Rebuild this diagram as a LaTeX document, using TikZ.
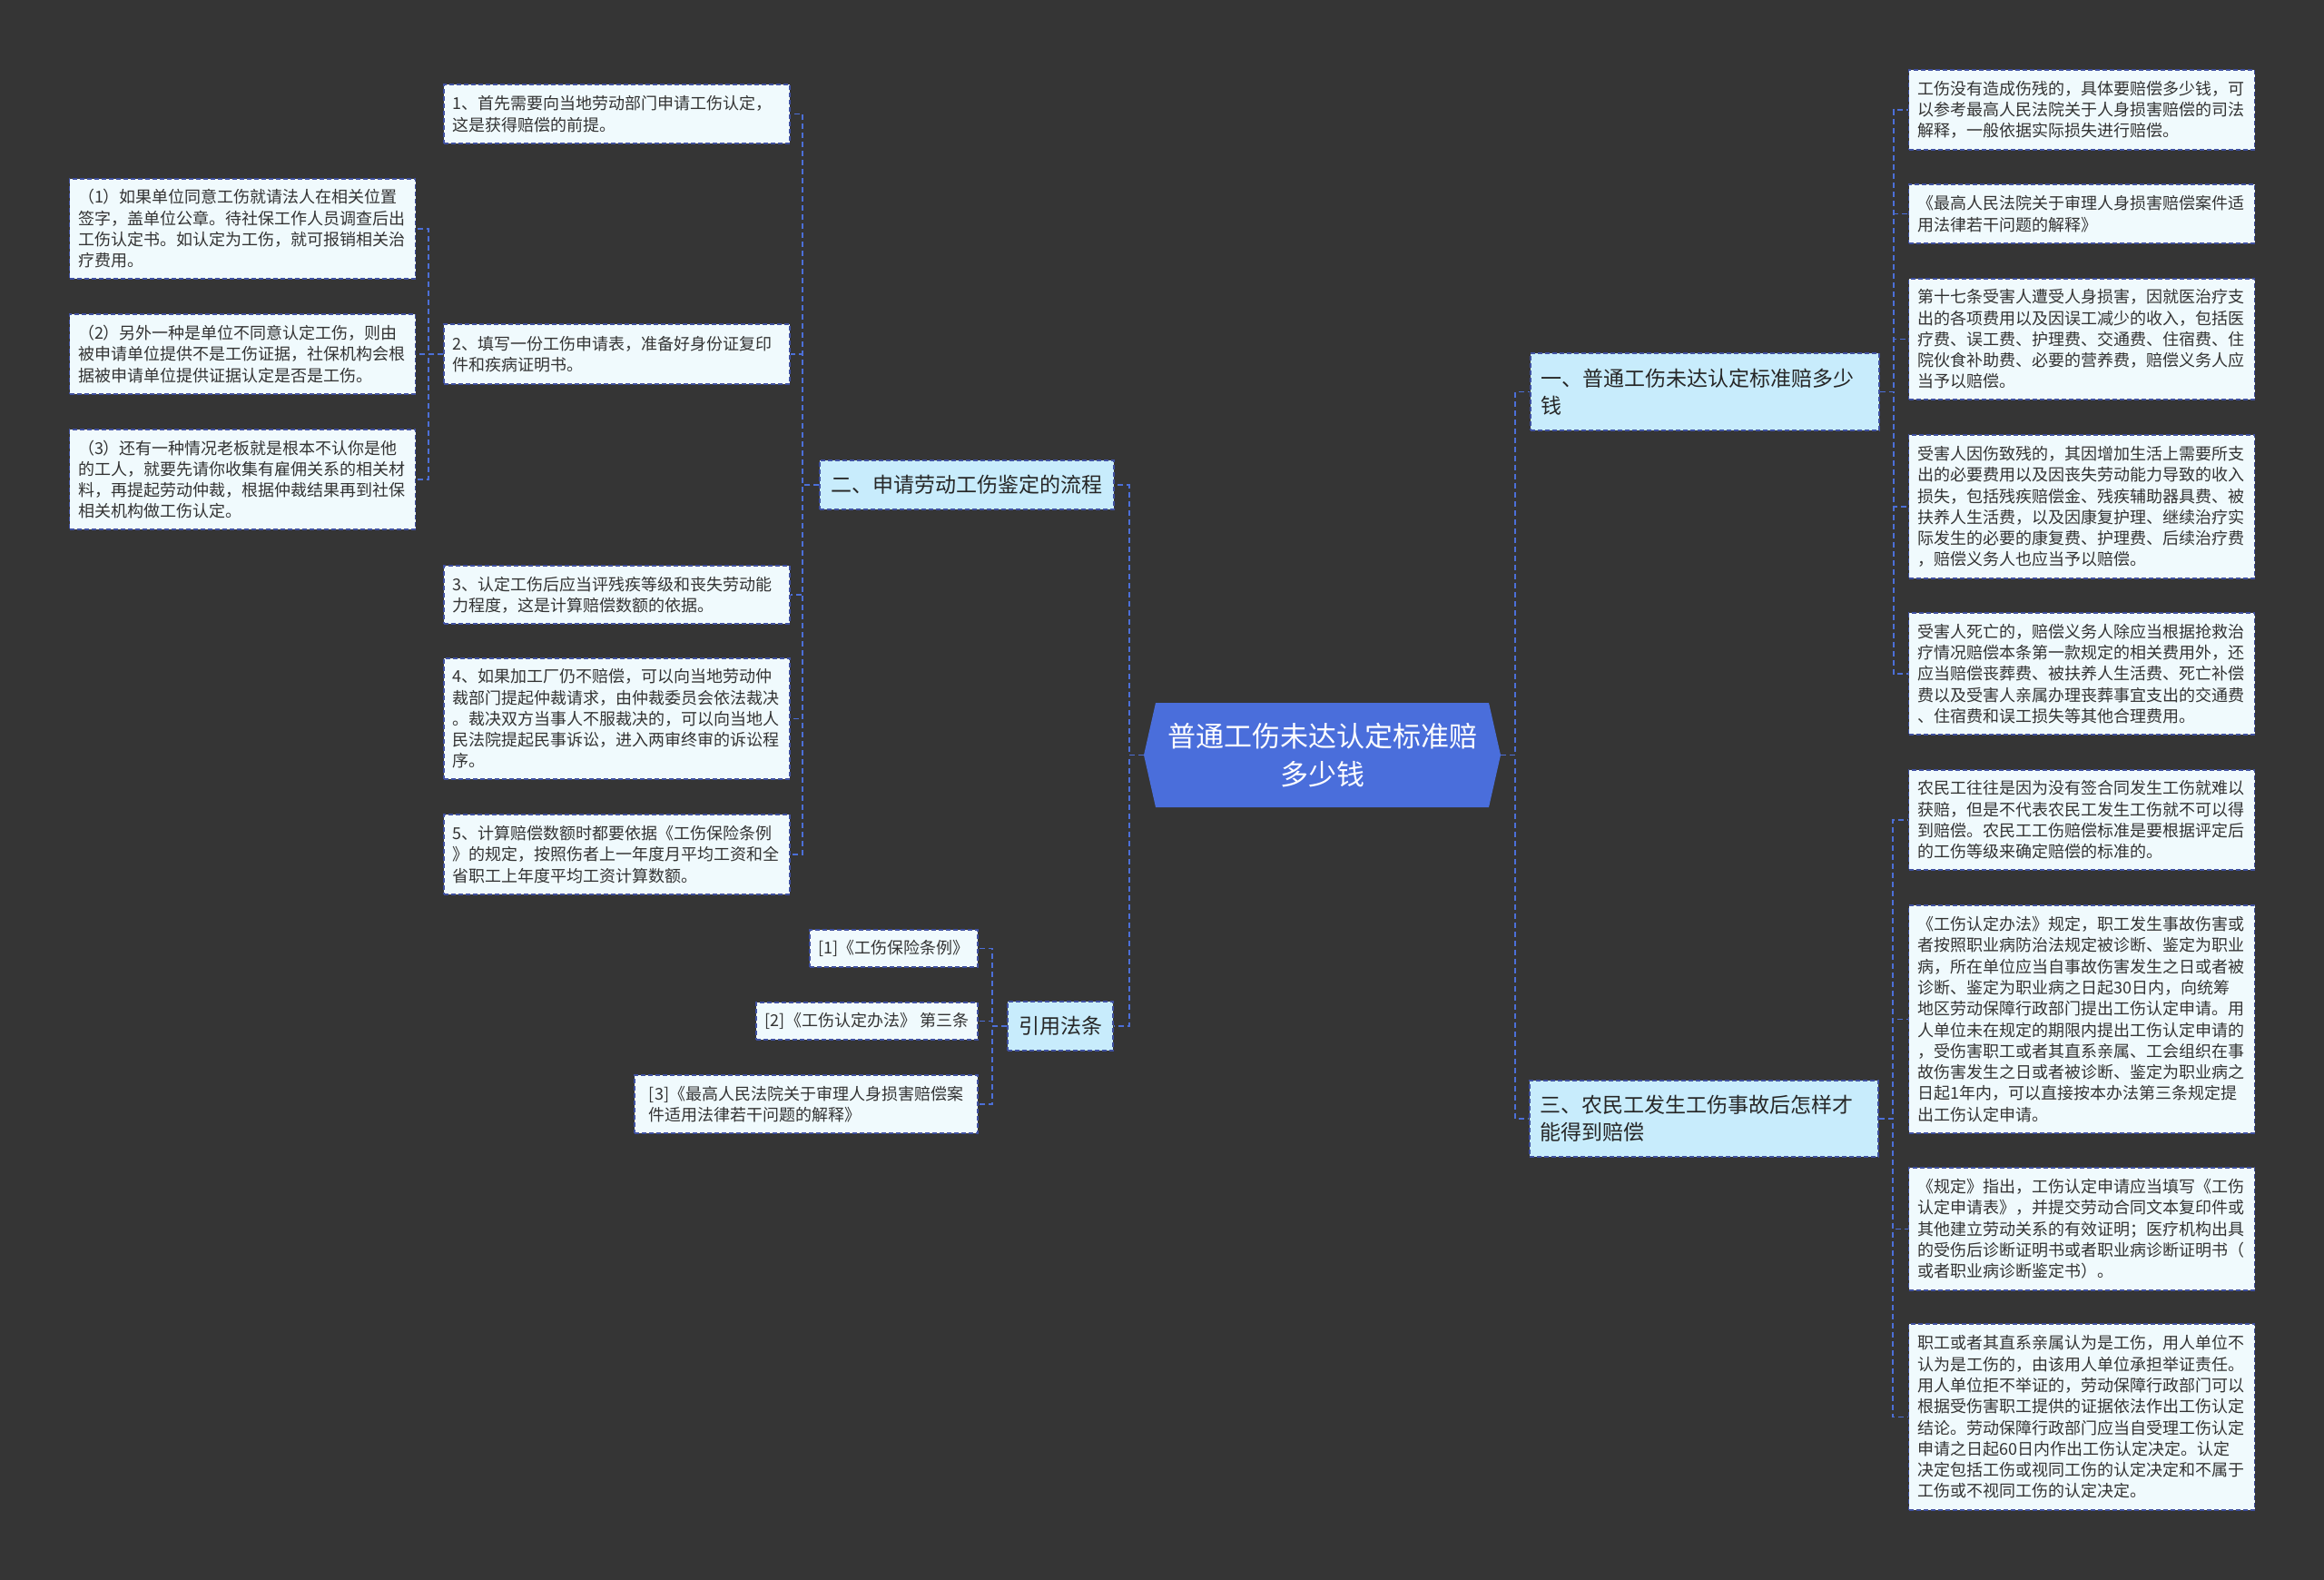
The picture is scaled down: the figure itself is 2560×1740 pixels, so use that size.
\documentclass[tikz,border=0pt]{standalone}
\usepackage{fontspec}
\setmainfont{Noto Sans CJK SC}
\usepackage{xcolor}
\definecolor{bggray}{HTML}{353535}
\definecolor{rootblue}{HTML}{4A6EDB}
\definecolor{topicblue}{HTML}{C8ECFC}
\definecolor{leafwhite}{HTML}{F0FAFD}
\definecolor{edgeblue}{HTML}{4C6FD8}
\definecolor{rimblue}{HTML}{3F50A0}

\begin{document}
\begin{tikzpicture}[
  x=1pt, y=-1pt,
  rootnode/.style={minimum width=393pt, minimum height=115pt, inner sep=0pt, align=center, text=white, font=\fontsize{31}{41.7}\selectfont,
    path picture={\fill[rootblue] (path picture bounding box.west) -- ([xshift=13pt]path picture bounding box.north west) -- ([xshift=-13pt]path picture bounding box.north east) -- (path picture bounding box.east) -- ([xshift=-13pt]path picture bounding box.south east) -- ([xshift=13pt]path picture bounding box.south west) -- cycle;}},
  topic/.style={draw=rimblue, fill=topicblue, line width=1.5pt, dash pattern=on 5pt off 3pt, inner xsep=11pt, inner ysep=0pt, align=left, text=black!85, font=\fontsize{23}{30}\selectfont},
  leaf/.style={draw=rimblue, fill=leafwhite, line width=1.5pt, dash pattern=on 5pt off 3pt, text width=362pt, inner xsep=9.5pt, inner ysep=0pt, align=left, text=black!80, font=\fontsize{18}{23.3}\selectfont},
  reflaw/.style={leaf, text width=, align=left},
  link/.style={draw=edgeblue, line width=1.8pt, dash pattern=on 6pt off 4pt}
]
  \fill[bggray] (0,0) rectangle (2560,1740);
  \useasboundingbox (0,0) rectangle (2560,1740);
  \node[rootnode] (root) at (1456.5,831.5) {普通工伤未达认定标准赔\\多少钱};
  \node[topic, text width=362pt, minimum height=85pt] (b1) at (1878,431.5) {一、普通工伤未达认定标准赔多少\\钱};
  \node[topic, minimum width=324pt, minimum height=54pt] (b2) at (1065,534) {二、申请劳动工伤鉴定的流程};
  \node[topic, text width=362pt, minimum height=84pt] (b3) at (1877,1232) {三、农民工发生工伤事故后怎样才\\能得到赔偿};
  \node[topic, minimum width=116pt, minimum height=54pt] (b4) at (1168,1130) {引用法条};
  \node[leaf, minimum height=65pt] (l1) at (679.5,125.5) {1、首先需要向当地劳动部门申请工伤认定，\\这是获得赔偿的前提。};
  \node[leaf, minimum height=66pt] (l2) at (679.5,390) {2、填写一份工伤申请表，准备好身份证复印\\件和疾病证明书。};
  \node[leaf, minimum height=64pt] (l3) at (679.5,655) {3、认定工伤后应当评残疾等级和丧失劳动能\\力程度，这是计算赔偿数额的依据。};
  \node[leaf, minimum height=133pt] (l4) at (679.5,791.5) {4、如果加工厂仍不赔偿，可以向当地劳动仲\\裁部门提起仲裁请求，由仲裁委员会依法裁决\\。裁决双方当事人不服裁决的，可以向当地人\\民法院提起民事诉讼，进入两审终审的诉讼程\\序。};
  \node[leaf, minimum height=88pt] (l5) at (679.5,941) {5、计算赔偿数额时都要依据《工伤保险条例\\》的规定，按照伤者上一年度月平均工资和全\\省职工上年度平均工资计算数额。};
  \node[leaf, minimum height=110pt] (s1) at (267,252) {（1）如果单位同意工伤就请法人在相关位置\\签字，盖单位公章。待社保工作人员调查后出\\工伤认定书。如认定为工伤，就可报销相关治\\疗费用。};
  \node[leaf, minimum height=88pt] (s2) at (267,390) {（2）另外一种是单位不同意认定工伤，则由\\被申请单位提供不是工伤证据，社保机构会根\\据被申请单位提供证据认定是否是工伤。};
  \node[leaf, minimum height=110pt] (s3) at (267,528) {（3）还有一种情况老板就是根本不认你是他\\的工人，就要先请你收集有雇佣关系的相关材\\料，再提起劳动仲裁，根据仲裁结果再到社保\\相关机构做工伤认定。};
  \node[reflaw, minimum width=185pt, minimum height=41pt] (ref1) at (984.5,1044.5) {[1]《工伤保险条例》};
  \node[reflaw, minimum width=244pt, minimum height=41pt] (ref2) at (955,1124.5) {[2]《工伤认定办法》 第三条};
  \node[reflaw, minimum width=378pt, minimum height=64pt] (ref3) at (888,1216) {[3]《最高人民法院关于审理人身损害赔偿案\\件适用法律若干问题的解释》};
  \node[leaf, minimum height=88pt] (r1) at (2293,121) {工伤没有造成伤残的，具体要赔偿多少钱，可\\以参考最高人民法院关于人身损害赔偿的司法\\解释，一般依据实际损失进行赔偿。};
  \node[leaf, minimum height=65pt] (r2) at (2293,235.5) {《最高人民法院关于审理人身损害赔偿案件适\\用法律若干问题的解释》};
  \node[leaf, minimum height=133pt] (r3) at (2293,373.5) {第十七条受害人遭受人身损害，因就医治疗支\\出的各项费用以及因误工减少的收入，包括医\\疗费、误工费、护理费、交通费、住宿费、住\\院伙食补助费、必要的营养费，赔偿义务人应\\当予以赔偿。};
  \node[leaf, minimum height=158pt] (r4) at (2293,558) {受害人因伤致残的，其因增加生活上需要所支\\出的必要费用以及因丧失劳动能力导致的收入\\损失，包括残疾赔偿金、残疾辅助器具费、被\\扶养人生活费，以及因康复护理、继续治疗实\\际发生的必要的康复费、护理费、后续治疗费\\，赔偿义务人也应当予以赔偿。};
  \node[leaf, minimum height=134pt] (r5) at (2293,742) {受害人死亡的，赔偿义务人除应当根据抢救治\\疗情况赔偿本条第一款规定的相关费用外，还\\应当赔偿丧葬费、被扶养人生活费、死亡补偿\\费以及受害人亲属办理丧葬事宜支出的交通费\\、住宿费和误工损失等其他合理费用。};
  \node[leaf, minimum height=110pt] (r6) at (2293,903) {农民工往往是因为没有签合同发生工伤就难以\\获赔，但是不代表农民工发生工伤就不可以得\\到赔偿。农民工工伤赔偿标准是要根据评定后\\的工伤等级来确定赔偿的标准的。};
  \node[leaf, minimum height=251pt] (r7) at (2293,1122.5) {《工伤认定办法》规定，职工发生事故伤害或\\者按照职业病防治法规定被诊断、鉴定为职业\\病，所在单位应当自事故伤害发生之日或者被\\诊断、鉴定为职业病之日起30日内，向统筹\\地区劳动保障行政部门提出工伤认定申请。用\\人单位未在规定的期限内提出工伤认定申请的\\，受伤害职工或者其直系亲属、工会组织在事\\故伤害发生之日或者被诊断、鉴定为职业病之\\日起1年内，可以直接按本办法第三条规定提\\出工伤认定申请。};
  \node[leaf, minimum height=135pt] (r8) at (2293,1353.5) {《规定》指出，工伤认定申请应当填写《工伤\\认定申请表》，并提交劳动合同文本复印件或\\其他建立劳动关系的有效证明；医疗机构出具\\的受伤后诊断证明书或者职业病诊断证明书（\\或者职业病诊断鉴定书）。};
  \node[leaf, minimum height=205pt] (r9) at (2293,1560.5) {职工或者其直系亲属认为是工伤，用人单位不\\认为是工伤的，由该用人单位承担举证责任。\\用人单位拒不举证的，劳动保障行政部门可以\\根据受伤害职工提供的证据依法作出工伤认定\\结论。劳动保障行政部门应当自受理工伤认定\\申请之日起60日内作出工伤认定决定。认定\\决定包括工伤或视同工伤的认定决定和不属于\\工伤或不视同工伤的认定决定。};
  \draw[link] (root.west) -- ++(-16,0) |- (b2.east);
  \draw[link] (root.west) -- ++(-16,0) |- (b4.east);
  \draw[link] (root.east) -- ++(16,0) |- (b1.west);
  \draw[link] (root.east) -- ++(16,0) |- (b3.west);
  \draw[link] (b2.west) -- ++(-18,0) |- (l1.east);
  \draw[link] (b2.west) -- ++(-18,0) |- (l2.east);
  \draw[link] (b2.west) -- ++(-18,0) |- (l3.east);
  \draw[link] (b2.west) -- ++(-18,0) |- (l4.east);
  \draw[link] (b2.west) -- ++(-18,0) |- (l5.east);
  \draw[link] (l2.west) -- ++(-16,0) |- (s1.east);
  \draw[link] (l2.west) -- ++(-16,0) |- (s2.east);
  \draw[link] (l2.west) -- ++(-16,0) |- (s3.east);
  \draw[link] (b4.west) -- ++(-16,0) |- (ref1.east);
  \draw[link] (b4.west) -- ++(-16,0) |- (ref2.east);
  \draw[link] (b4.west) -- ++(-16,0) |- (ref3.east);
  \draw[link] (b1.east) -- ++(15,0) |- (r1.west);
  \draw[link] (b1.east) -- ++(15,0) |- (r2.west);
  \draw[link] (b1.east) -- ++(15,0) |- (r3.west);
  \draw[link] (b1.east) -- ++(15,0) |- (r4.west);
  \draw[link] (b1.east) -- ++(15,0) |- (r5.west);
  \draw[link] (b3.east) -- ++(15,0) |- (r6.west);
  \draw[link] (b3.east) -- ++(15,0) |- (r7.west);
  \draw[link] (b3.east) -- ++(15,0) |- (r8.west);
  \draw[link] (b3.east) -- ++(15,0) |- (r9.west);
\end{tikzpicture}
\end{document}
